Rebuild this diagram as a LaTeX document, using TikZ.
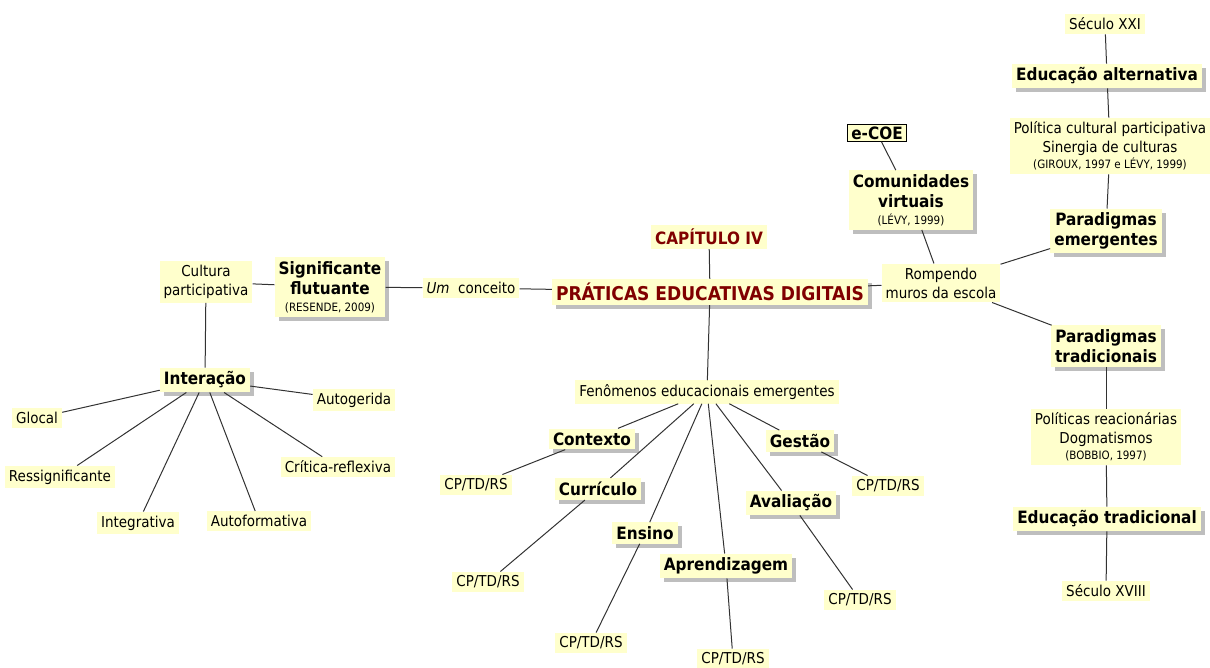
\documentclass[tikz,border=0pt]{standalone}
\usepackage{fontspec}
\setmainfont{DejaVu Sans Condensed}
\usetikzlibrary{shadows}
\definecolor{boxc}{RGB}{255,255,204}
\definecolor{shadowc}{RGB}{190,190,190}
\definecolor{titlered}{RGB}{128,0,0}
\definecolor{linec}{RGB}{50,50,50}
\newcommand{\reff}[1]{{\fontsize{11.5}{13}\selectfont\mdseries #1}}
\begin{document}
\begin{tikzpicture}[x=1pt,y=-1pt,
  box/.style={fill=boxc, inner xsep=4pt, inner ysep=4pt, align=center,
    font=\fontsize{15}{19}\selectfont},
  head/.style={box, font=\fontsize{17}{20}\selectfont\bfseries,
    drop shadow={shadow xshift=4pt, shadow yshift=-4pt, fill=shadowc, opacity=1}},
  redhead/.style={box, text=titlered, font=\fontsize{17}{20}\selectfont\bfseries},
  link/.style={draw=linec, line width=1pt}]
\useasboundingbox (0,0) rectangle (1210,668);

% central concept
\node[redhead] (cap) at (709,237) {CAPÍTULO IV};
\node[redhead, font=\fontsize{19}{22}\selectfont\bfseries,
  drop shadow={shadow xshift=4pt, shadow yshift=-4pt, fill=shadowc, opacity=1}] (prat) at (710,292) {PRÁTICAS EDUCATIVAS DIGITAIS};

% left branch
\node[box] (umc) at (471,288) {\textit{Um}~ conceito};
\node[head] (sig) at (330,287) {Significante\\flutuante\\[-3pt]\reff{(RESENDE, 2009)}};
\node[box] (cult) at (206,282) {Cultura\\participativa};
\node[head] (inter) at (205,380) {Interação};
\node[box] (glocal) at (37,418) {Glocal};
\node[box] (ress) at (60,477) {Ressignificante};
\node[box] (integ) at (138,523) {Integrativa};
\node[box] (autof) at (259,521) {Autoformativa};
\node[box] (crit) at (338,467) {Crítica-reflexiva};
\node[box] (autog) at (354,400) {Autogerida};

% right branch
\node[box] (romp) at (941,283) {Rompendo\\muros da escola};
\node[head] (comu) at (911,200) {Comunidades\\virtuais\\[-3pt]\reff{(LÉVY, 1999)}};
\node[box, draw=black, line width=0.8pt, inner ysep=2pt, font=\fontsize{17}{20}\selectfont\bfseries] (ecoe) at (877,133) {e-COE};
\node[head] (pemg) at (1106,231) {Paradigmas\\emergentes};
\node[box] (polc) at (1110,146) {Política cultural participativa\\Sinergia de culturas\\[-3pt]\reff{(GIROUX, 1997 e LÉVY, 1999)}};
\node[head] (ealt) at (1107,76) {Educação alternativa};
\node[box] (sxxi) at (1105,24) {Século XXI};
\node[head] (ptrd) at (1106,346) {Paradigmas\\tradicionais};
\node[box] (polr) at (1106,437) {Políticas reacionárias\\Dogmatismos\\[-3pt]\reff{(BOBBIO, 1997)}};
\node[head] (etrd) at (1107,519) {Educação tradicional};
\node[box] (sxviii) at (1106,591) {Século XVIII};

% lower branch
\node[box] (fen) at (707,392) {Fenômenos educacionais emergentes};
\node[head] (ctx) at (592,439) {Contexto};
\node[box] (cp1) at (476,485) {CP/TD/RS};
\node[head] (cur) at (598,489) {Currículo};
\node[box] (cp2) at (488,582) {CP/TD/RS};
\node[head] (ens) at (645,533) {Ensino};
\node[box] (cp3) at (591,643) {CP/TD/RS};
\node[head] (apr) at (726,566) {Aprendizagem};
\node[box] (cp4) at (733,659) {CP/TD/RS};
\node[head] (ges) at (800,441) {Gestão};
\node[box] (cp5) at (888,486) {CP/TD/RS};
\node[head] (ava) at (791,503) {Avaliação};
\node[box] (cp6) at (860,600) {CP/TD/RS};

% connectors
\draw[link] (cap) -- (prat);
\draw[link] (prat) -- (fen);
\draw[link] (prat) -- (umc);
\draw[link] (umc) -- (sig);
\draw[link] (sig) -- (cult);
\draw[link] (cult) -- (inter);
\foreach \n in {glocal,ress,integ,autof,crit,autog} \draw[link] (inter) -- (\n);
\draw[link] (prat) -- (romp);
\draw[link] (romp) -- (comu);
\draw[link] (comu) -- (ecoe);
\draw[link] (romp) -- (pemg);
\draw[link] (pemg) -- (polc);
\draw[link] (polc) -- (ealt);
\draw[link] (ealt) -- (sxxi);
\draw[link] (romp) -- (ptrd);
\draw[link] (ptrd) -- (polr);
\draw[link] (polr) -- (etrd);
\draw[link] (etrd) -- (sxviii);
\foreach \n/\c in {ctx/cp1,cur/cp2,ens/cp3,apr/cp4,ges/cp5,ava/cp6} {
  \draw[link] (fen) -- (\n);
  \draw[link] (\n) -- (\c);
}
\end{tikzpicture}
\end{document}
